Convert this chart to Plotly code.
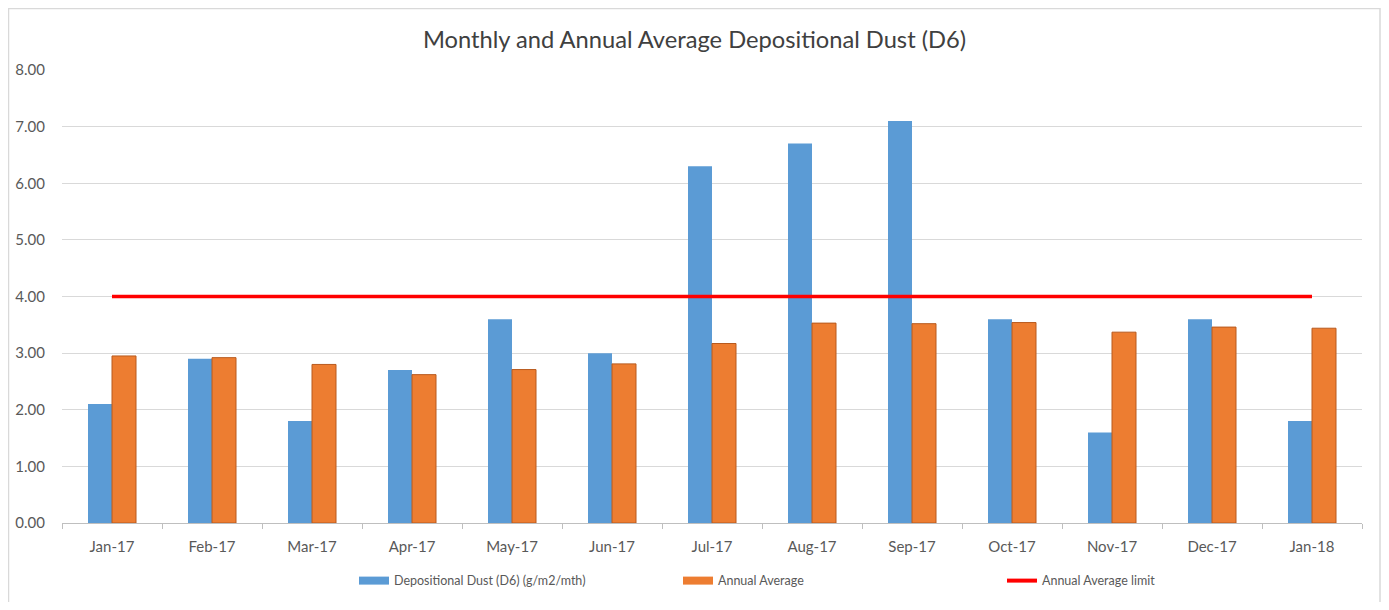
"""Monthly and annual average depositional dust (D6) chart."""

import plotly.graph_objects as go

MONTHS = [
    "Jan-17", "Feb-17", "Mar-17", "Apr-17", "May-17", "Jun-17", "Jul-17",
    "Aug-17", "Sep-17", "Oct-17", "Nov-17", "Dec-17", "Jan-18",
]
DUST_D6 = [2.1, 2.9, 1.8, 2.7, 3.6, 3.0, 6.3, 6.7, 7.1, 3.6, 1.6, 3.6, 1.8]
ANNUAL_AVG = [2.95, 2.92, 2.80, 2.62, 2.71, 2.81, 3.17, 3.53, 3.52, 3.54, 3.37, 3.46, 3.44]
ANNUAL_LIMIT = [4.0] * len(MONTHS)
Y_TICKS = [0, 1, 2, 3, 4, 5, 6, 7, 8]

FONT = "Lato, 'Open Sans', sans-serif"
BLUE, ORANGE, RED = "#5b9bd5", "#ed7d31", "#ff0000"
NAMES = ["Depositional Dust (D6) (g/m2/mth)", "Annual Average", "Annual Average limit"]

# page body keeps its 8px margin, so shrink the figure to fit the window
W, H = 1373, 594
M = {"l": 54, "r": 19, "t": 62, "b": 79, "autoexpand": False}
plot_w = W - M["l"] - M["r"]
plot_h = H - M["t"] - M["b"]
plot_bottom = M["t"] + plot_h

fig = go.Figure()
fig.add_trace(go.Bar(
    x=MONTHS, y=DUST_D6, name=NAMES[0], showlegend=False,
    marker={"color": BLUE, "line": {"width": 0}},
))
fig.add_trace(go.Bar(
    x=MONTHS, y=ANNUAL_AVG, name=NAMES[1], showlegend=False,
    marker={"color": ORANGE, "line": {"width": 1, "color": "#b85a1e"}},
))
fig.add_trace(go.Scatter(
    x=MONTHS, y=ANNUAL_LIMIT, name=NAMES[2], mode="lines", showlegend=False,
    line={"color": RED, "width": 3.5},
))

# legend entries drawn as wide swatches like the spreadsheet legend
for name, color, width in zip(NAMES, [BLUE, ORANGE, RED], [8, 8, 4]):
    fig.add_trace(go.Scatter(
        x=[None], y=[None], name=name, mode="lines",
        line={"color": color, "width": width}, hoverinfo="skip",
    ))

# light border round the whole chart
fig.add_shape(
    type="rect", xref="paper", yref="paper",
    x0=(0.5 - M["l"]) / plot_w, x1=(W - 1 - M["l"]) / plot_w,
    y0=(plot_bottom - (H + 2)) / plot_h, y1=(plot_bottom - 0.5) / plot_h,
    line={"color": "#d9d9d9", "width": 1.5},
)

fig.update_layout(
    width=W, height=H,
    margin=M,
    paper_bgcolor="white", plot_bgcolor="white",
    font={"family": FONT, "color": "#595959", "size": 15},
    title={
        "text": "Monthly and Annual Average Depositional Dust (D6)",
        "x": 0.5, "xanchor": "center", "y": 1 - 32 / H, "yanchor": "middle",
        "font": {"size": 23.7, "color": "#404040", "family": FONT},
    },
    barmode="group", bargap=0.52, bargroupgap=0,
    xaxis={
        "type": "category", "showgrid": False, "showline": True,
        "linecolor": "#bfbfbf", "linewidth": 1, "automargin": False,
        "ticks": "outside", "tickson": "boundaries", "ticklen": 5,
        "tickcolor": "#bfbfbf", "ticklabelstandoff": 10,
        "range": [-0.5, len(MONTHS) - 0.5],
    },
    yaxis={
        "range": [0, 8], "tickvals": Y_TICKS, "tickformat": ".2f",
        "showgrid": True, "gridcolor": "#d9d9d9", "gridwidth": 1,
        "zeroline": False, "showline": False, "ticks": "", "automargin": False,
        "ticklabelstandoff": 16,
    },
    legend={
        "orientation": "h", "x": 0.2246, "xanchor": "left", "y": -0.128,
        "yanchor": "middle", "font": {"size": 12.5, "color": "#595959"},
        "entrywidth": 279, "entrywidthmode": "pixels", "traceorder": "normal",
    },
    showlegend=True,
)

fig.write_html("out.html")
